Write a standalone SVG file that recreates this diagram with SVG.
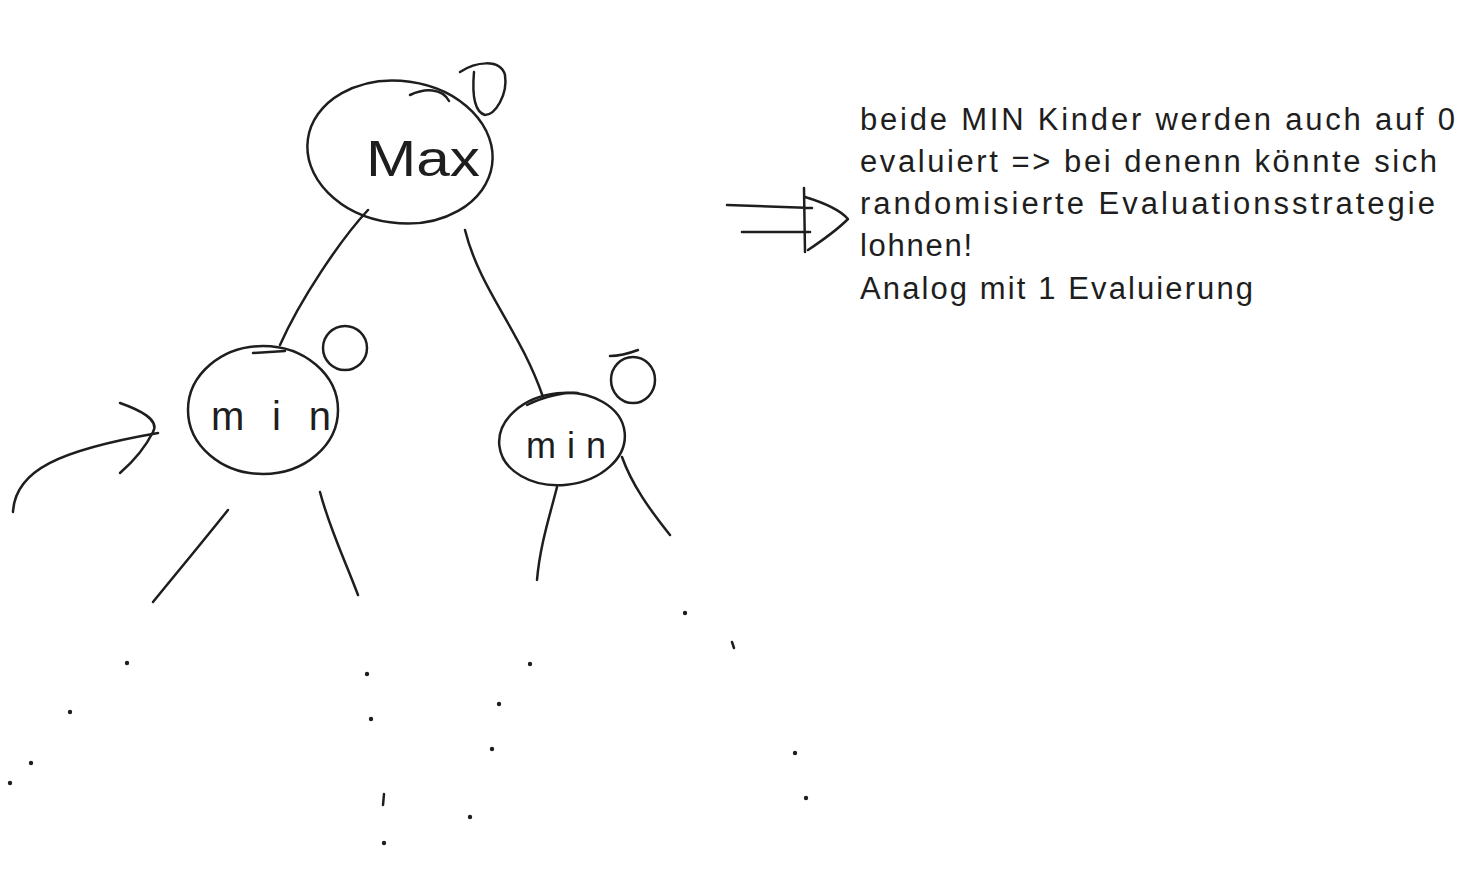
<svg xmlns="http://www.w3.org/2000/svg" width="1474" height="876" viewBox="0 0 1474 876">
<style>
.s{fill:none;stroke:#1e1e1e;stroke-width:2.5;stroke-linecap:round;stroke-linejoin:round}
.d{fill:#1e1e1e}
.t{font-family:"Liberation Sans","DejaVu Sans",sans-serif;fill:#1e1e1e}
</style>
<rect width="1474" height="876" fill="#ffffff"/>
<g id="node-max">
<ellipse class="s" cx="400" cy="152" rx="93" ry="71" transform="rotate(8 400 152)"/>
<path class="s" d="M410,95 C425,88 442,88 449,101"/>
<path class="s" d="M460,72 C475,62 500,58 505,75 C508,95 495,115 485,115 C475,112 472,95 474,72"/>
<text class="t" x="366" y="176" font-size="50" textLength="114" lengthAdjust="spacingAndGlyphs">Max</text>
</g>
<g id="node-min-left">
<ellipse class="s" cx="263" cy="410" rx="75" ry="64"/>
<path class="s" d="M253,353 L285,351"/>
<circle class="s" cx="345" cy="348" r="22"/>
<text class="t" x="211" y="430" font-size="40" textLength="120" lengthAdjust="spacing">min</text>
</g>
<g id="node-min-right">
<ellipse class="s" cx="562" cy="439" rx="63" ry="46" transform="rotate(-6 562 439)"/>
<path class="s" d="M527,405 C545,396 565,392 578,393"/>
<ellipse class="s" cx="633" cy="380" rx="22" ry="23"/>
<path class="s" d="M610,356 C620,356 630,353 638,350"/>
<text class="t" x="526" y="458" font-size="36" textLength="80" lengthAdjust="spacing">min</text>
</g>
<g id="connectors">
<path class="s" d="M368,210 C340,240 300,300 280,345"/>
<path class="s" d="M465,230 C480,290 520,330 543,397"/>
<path class="s" d="M228,510 C200,545 175,575 153,602"/>
<path class="s" d="M320,492 C330,530 345,560 358,595"/>
<path class="s" d="M557,487 C550,515 540,545 537,580"/>
<path class="s" d="M622,457 C632,485 650,510 670,535"/>
<path class="s" d="M13,512 C15,470 60,450 158,433"/>
<path class="s" d="M120,403 C140,410 160,420 153,432 C145,448 135,460 120,473"/>
<path class="s" d="M727,205 L812,208 M742,232 L810,232 M804,188 L805,252"/>
<path class="s" d="M805,197 C825,203 840,210 848,219 C835,232 820,242 808,250"/>
</g>
<g id="dots">
<circle class="d" cx="127" cy="663" r="2.2"/>
<circle class="d" cx="70" cy="712" r="2.2"/>
<circle class="d" cx="31" cy="763" r="2.2"/>
<circle class="d" cx="10" cy="783" r="2.2"/>
<circle class="d" cx="367" cy="674" r="2.2"/>
<circle class="d" cx="371" cy="719" r="2.2"/>
<path class="s" d="M384,794 L383,805"/>
<circle class="d" cx="384" cy="843" r="2.2"/>
<circle class="d" cx="530" cy="664" r="2.2"/>
<circle class="d" cx="499" cy="704" r="2.2"/>
<circle class="d" cx="492" cy="749" r="2.2"/>
<circle class="d" cx="470" cy="817" r="2.2"/>
<circle class="d" cx="685" cy="613" r="2.2"/>
<path class="s" d="M732,642 L734,648"/>
<circle class="d" cx="795" cy="753" r="2.2"/>
<circle class="d" cx="806" cy="798" r="2.2"/>
</g>
<g id="note">
<text class="t" x="860" y="130" font-size="31" textLength="595" lengthAdjust="spacing">beide MIN Kinder werden auch auf 0</text>
<text class="t" x="860" y="172" font-size="31" textLength="577" lengthAdjust="spacing">evaluiert =&gt; bei denenn könnte sich</text>
<text class="t" x="860" y="214" font-size="31" textLength="575" lengthAdjust="spacing">randomisierte Evaluationsstrategie</text>
<text class="t" x="860" y="256" font-size="31" textLength="112" lengthAdjust="spacing">lohnen!</text>
<text class="t" x="860" y="299" font-size="31" textLength="393" lengthAdjust="spacing">Analog mit 1 Evaluierung</text>
</g>
</svg>
